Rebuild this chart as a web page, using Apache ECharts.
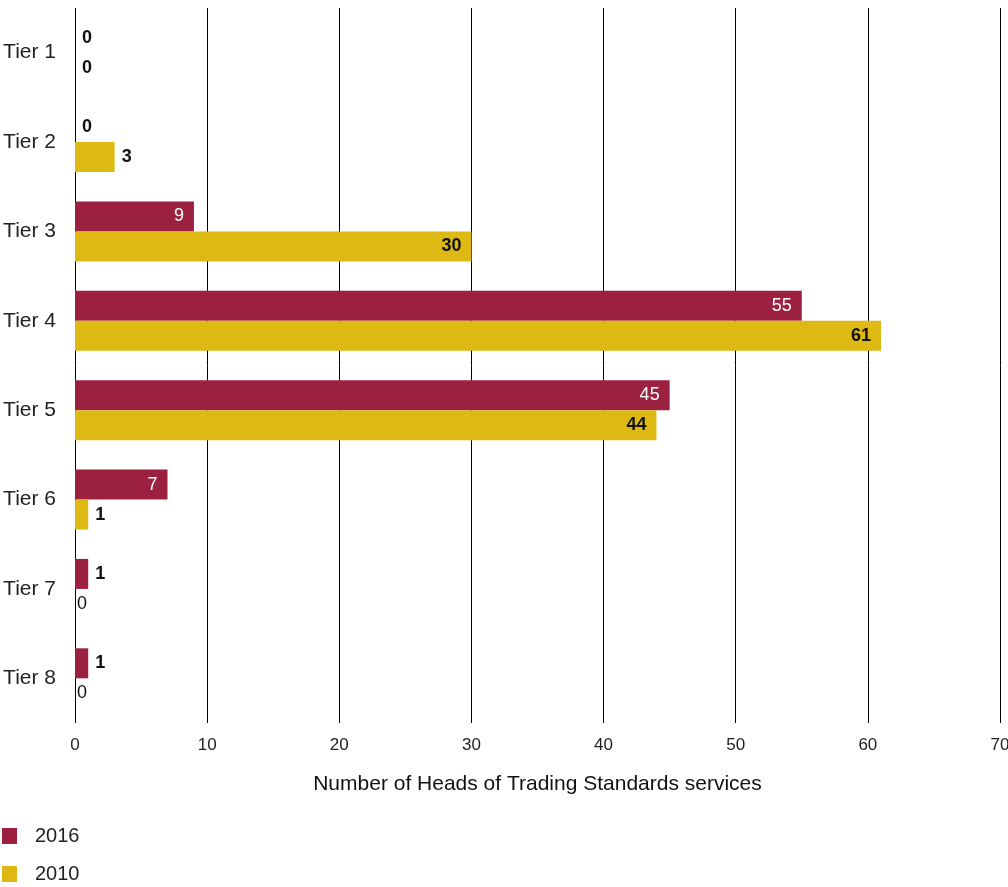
<!DOCTYPE html>
<html>
<head>
<meta charset="utf-8">
<script src="https://cdn.jsdelivr.net/npm/echarts@6/dist/echarts.min.js"></script>
<style>
  html, body { margin: 0; padding: 0; background: #fff; }
  #chart { width: 1008px; height: 887px; }
</style>
</head>
<body>
<div id="chart"></div>
<script>
// Tiers and headcounts per survey year
const categories = ['Tier 1', 'Tier 2', 'Tier 3', 'Tier 4', 'Tier 5', 'Tier 6', 'Tier 7', 'Tier 8'];
const values2016 = [0, 0, 9, 55, 45, 7, 1, 1];
const values2010 = [0, 3, 30, 61, 44, 1, 0, 0];
const xTicks = [0, 10, 20, 30, 40, 50, 60, 70];

const RED = '#9c2140';
const GOLD = '#deb914';
const FONT = '"Liberation Sans", Arial, sans-serif';

// Large bars carry their value inside, small ones just past the end
function labelled(values, insideColor, insideWeight, tightZeros) {
  return values.map(function (v, i) {
    const inside = v >= 5;
    const tight = tightZeros && v === 0 && i >= 6;
    return {
      value: v,
      label: {
        show: true,
        position: inside ? 'insideRight' : 'right',
        distance: inside ? 10 : (tight ? 2 : 7),
        color: inside ? insideColor : '#111',
        fontWeight: inside ? insideWeight : (tight ? 'normal' : 'bold'),
        fontSize: 18,
        fontFamily: FONT
      }
    };
  });
}

const chart = echarts.init(document.getElementById('chart'));
chart.setOption({
  animation: false,
  textStyle: { fontFamily: FONT },
  grid: {
    left: 75, right: 8, top: 8, bottom: 164,
    containLabel: false,
    outerBoundsMode: 'none'
  },
  legend: {
    orient: 'vertical',
    left: 2,
    top: 826,
    height: 60,
    padding: 0,
    itemWidth: 15,
    itemHeight: 16,
    itemGap: 18,
    icon: 'rect',
    textStyle: { fontSize: 20, lineHeight: 20, color: '#222', fontFamily: FONT, padding: [0, 0, 0, 13] },
    data: ['2016', '2010']
  },
  xAxis: {
    type: 'value',
    min: xTicks[0],
    max: xTicks[xTicks.length - 1],
    interval: 10,
    name: 'Number of Heads of Trading Standards services',
    nameLocation: 'middle',
    nameGap: 51,
    nameTextStyle: { fontSize: 21, color: '#111', fontFamily: FONT },
    axisLine: { show: false },
    axisTick: { show: false },
    axisLabel: { fontSize: 17, color: '#222', margin: 14, fontFamily: FONT },
    splitLine: { show: true, lineStyle: { color: '#000', width: 1 } }
  },
  yAxis: {
    type: 'category',
    inverse: true,
    data: categories,
    axisLine: { show: false },
    axisTick: { show: false },
    axisLabel: { fontSize: 21, color: '#222', margin: 19, padding: [4, 0, 0, 0], fontFamily: FONT }
  },
  series: [
    {
      name: '2016',
      type: 'bar',
      barWidth: 30,
      barGap: '0%',
      itemStyle: { color: RED },
      data: labelled(values2016, '#fff', 'normal', false)
    },
    {
      name: '2010',
      type: 'bar',
      barWidth: 30,
      barGap: '0%',
      itemStyle: { color: GOLD },
      data: labelled(values2010, '#111', 'bold', true)
    }
  ]
});
</script>
</body>
</html>
